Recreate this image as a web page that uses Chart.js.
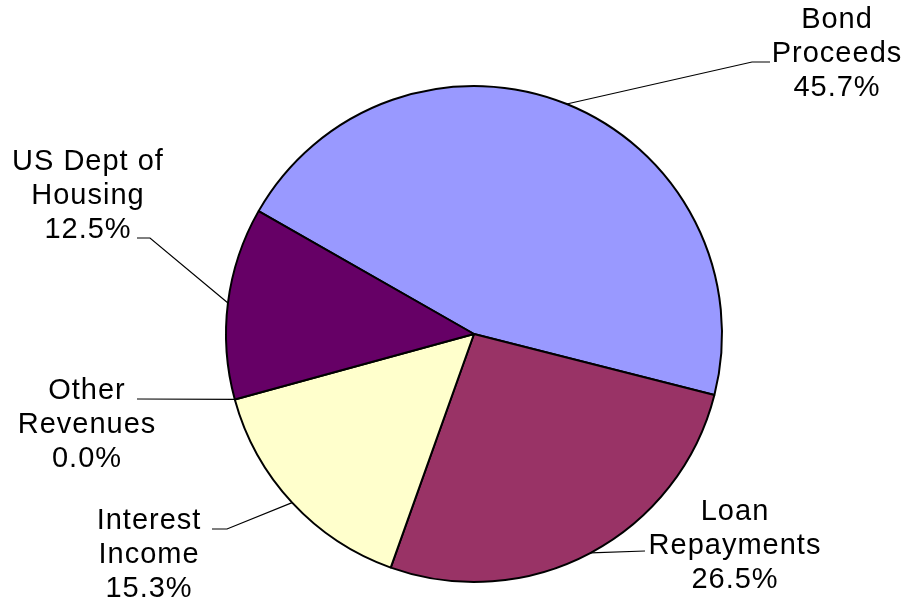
<!DOCTYPE html>
<html>
<head>
<meta charset="utf-8">
<script src="https://cdn.jsdelivr.net/npm/chart.js@4/dist/chart.umd.min.js"></script>
<style>
  html, body { margin: 0; padding: 0; background: #ffffff; }
  canvas { display: block; }
</style>
</head>
<body>
<canvas id="c" width="905" height="605"></canvas>
<script>
// ---- Data ----
const categories = ['Bond Proceeds', 'Loan Repayments', 'Interest Income', 'Other Revenues', 'US Dept of Housing'];
const labelLines = [['Bond', 'Proceeds'], ['Loan', 'Repayments'], ['Interest', 'Income'], ['Other', 'Revenues'], ['US Dept of', 'Housing']];
const shares = [45.7, 26.5, 15.3, 0.0, 12.5];

// ---- Styles / layout ----
const sliceColors = ['#9999FF', '#993366', '#FFFFCC', '#CCFFFF', '#660066'];
const labelLayout = [
  { x: 837, y: 54,  end: [770, 62],  elbow: [752, 62] },
  { x: 735, y: 546, end: [645, 551], elbow: [645, 551] },
  { x: 149, y: 555, end: [212, 529], elbow: [227, 529] },
  { x: 87,  y: 425, end: [137, 399], elbow: [137, 399] },
  { x: 88,  y: 196, end: [137, 238], elbow: [150, 238] }
];

const labelPlugin = {
  id: 'pieLabels',
  afterDatasetsDraw(chart) {
    const ctx = chart.ctx;
    const meta = chart.getDatasetMeta(0);
    ctx.save();
    meta.data.forEach((arc, i) => {
      const p = arc.getProps(['x', 'y', 'startAngle', 'endAngle', 'outerRadius'], true);
      const mid = (p.startAngle + p.endAngle) / 2;
      const ex = p.x + Math.cos(mid) * p.outerRadius;
      const ey = p.y + Math.sin(mid) * p.outerRadius;
      const L = labelLayout[i];
      ctx.beginPath();
      ctx.strokeStyle = '#000';
      ctx.lineWidth = 1.2;
      ctx.moveTo(ex, ey);
      ctx.lineTo(L.elbow[0], L.elbow[1]);
      ctx.lineTo(L.end[0], L.end[1]);
      ctx.stroke();
      const lines = labelLines[i].concat([shares[i].toFixed(1) + '%']);
      ctx.fillStyle = '#000';
      ctx.font = '29px "Liberation Sans", Arial, sans-serif';
      ctx.letterSpacing = '1px';
      ctx.textAlign = 'center';
      ctx.textBaseline = 'middle';
      lines.forEach((t, k) => {
        ctx.fillText(t, L.x, L.y + (k - 1) * 34);
      });
    });
    ctx.restore();
  }
};

new Chart(document.getElementById('c'), {
  type: 'pie',
  data: {
    labels: categories,
    datasets: [{
      data: shares,
      backgroundColor: sliceColors,
      borderColor: '#000000',
      borderWidth: 2
    }]
  },
  options: {
    responsive: false,
    animation: false,
    rotation: -60.3,
    layout: { padding: { top: 85, bottom: 22, left: 199, right: 156 } },
    plugins: {
      legend: { display: false },
      tooltip: { enabled: false }
    }
  },
  plugins: [labelPlugin]
});
</script>
</body>
</html>
